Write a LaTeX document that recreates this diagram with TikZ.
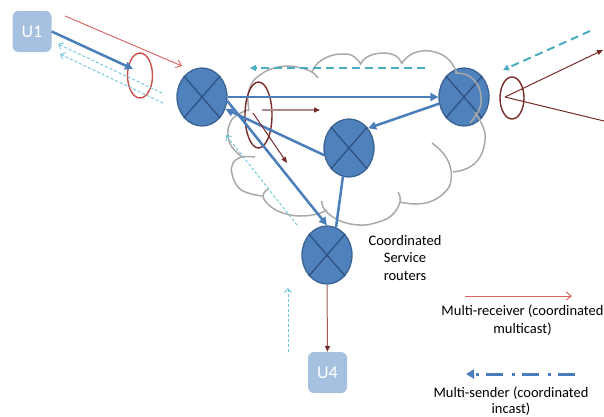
\documentclass[tikz,border=0pt]{standalone}
\usepackage{fontspec}
\setmainfont{Carlito}
\usetikzlibrary{shapes.geometric,arrows.meta,calc}
\definecolor{blueln}{HTML}{4A7EBB}
\definecolor{rfill}{HTML}{4F81BD}
\definecolor{rdraw}{HTML}{3A6393}
\definecolor{rcross}{HTML}{2F5283}
\definecolor{ubox}{HTML}{A6C0E0}
\definecolor{redln}{HTML}{D9605C}
\definecolor{redel}{HTML}{C9504B}
\definecolor{brownd}{HTML}{772C2A}
\definecolor{brownl}{HTML}{B08A8A}
\definecolor{brownm}{HTML}{9C5B5B}
\definecolor{cyanln}{HTML}{4BACC6}
\definecolor{cyanlt}{HTML}{70C4DA}
\definecolor{cloudc}{HTML}{A9A9A9}
\begin{document}
\begin{tikzpicture}[x=1pt,y=-1pt,
  userbox/.style={rectangle, rounded corners=6pt, fill=ubox, minimum width=39pt, minimum height=41pt, text=white, font=\fontsize{18}{20}\selectfont, inner sep=0pt},
  router/.style={ellipse, draw=rdraw, fill=rfill, line width=1.3pt, minimum width=50pt, minimum height=58pt, inner sep=0pt},
  xcross/.style={draw=rcross, line width=1.3pt},
  cloudln/.style={draw=cloudc, line width=1.5pt},
  bluelink/.style={draw=blueln, line width=2.5pt},
  bluearr/.style={bluelink, -{Triangle[length=8pt,width=8pt]}},
  redthin/.style={draw=redln, line width=0.9pt, -{Straight Barb[length=5pt,width=8pt]}},
  ringbox/.style={ellipse, line width=1.4pt, inner sep=0pt},
  brownarr/.style={draw=brownd, line width=1pt, -{Triangle[length=6pt,width=5pt]}},
  cyanthin/.style={draw=cyanlt, line width=0.9pt, dash pattern=on 3pt off 2pt, -{Straight Barb[length=4pt,width=7pt]}},
  cyanthick/.style={draw=cyanln, line width=2pt, dash pattern=on 8pt off 5pt, -{Triangle[length=6pt,width=6pt]}},
  txt/.style={align=center, text=black, font=\fontsize{14.5}{17.5}\selectfont, inner sep=0pt}
]
\useasboundingbox (0,0) rectangle (604,416);

% cloud (parts under everything)
\draw[cloudln] plot[smooth,tension=0.7] coordinates {(249,111) (248,96) (252,83) (260,75) (271,69) (287,66) (301,68) (312,72) (318,78)};
\draw[cloudln] plot[smooth,tension=0.7] coordinates {(312,72) (318,63) (330,56) (343,54) (353,56) (361,64)};
\draw[cloudln] plot[smooth,tension=0.7] coordinates {(360,65) (367,57) (382,53) (396,56) (402,64)};
\draw[cloudln] plot[smooth,tension=0.7] coordinates {(432,143) (443,153) (450,166) (451,180) (446,191) (432,201) (415,204) (400,202)};
\draw[cloudln] plot[smooth,tension=0.7] coordinates {(398,192) (400,202) (391,216) (375,223) (360,225) (343,222) (330,215) (323,207) (322,201)};
\draw[cloudln] plot[smooth,tension=0.7] coordinates {(327,210) (317,214) (300,216) (283,213) (270,206) (263,196) (268,189)};
\draw[cloudln] plot[smooth,tension=0.7] coordinates {(262,196) (248,193) (238,187) (232,174) (233,163) (242,157) (255,157)};
\draw[cloudln] plot[smooth,tension=0.7] coordinates {(242,157) (232,147) (228,135) (230,123) (237,115) (248,110)};

% nodes
\node[userbox] (U1) at (32,31.5) {U1};
\node[userbox] (U4) at (327.5,372.5) {U4};
\node[router] (R1) at (202,97) {};
\node[router] (R2) at (464,97) {};
\node[router] (R3) at (349,148) {};
\node[router] (R4) at (327,255) {};
\foreach \r in {R1,R2,R3,R4}{
  \draw[xcross] (\r.north west) -- (\r.south east);
  \draw[xcross] (\r.north east) -- (\r.south west);
}

% cloud parts over R2
\draw[cloudln] plot[smooth,tension=0.7] coordinates {(402,63) (410,55) (422,51) (435,52) (447,58) (454,67) (457,74)};
\draw[cloudln] plot[smooth,tension=0.7] coordinates {(455,73) (467,75) (477,84) (481,97) (479,110) (470,123)};
\draw[cloudln] plot[smooth,tension=0.7] coordinates {(475,112) (483,127) (485,140) (480,157) (468,168) (453,172)};

% rings
\node[ringbox, draw=redel, minimum width=25pt, minimum height=45pt] (E1) at (140,75.5) {};
\node[ringbox, draw=brownd, minimum width=27pt, minimum height=66pt] (E2) at (258.5,115) {};
\node[ringbox, draw=brownd, minimum width=24pt, minimum height=42pt] (E3) at (512,98) {};

% free ends
\coordinate (u1tip) at (133,69);
\coordinate (redS) at (65,16);
\coordinate (redE) at (182,66);
\coordinate (c1a) at (58,44);
\coordinate (c1b) at (162,93);
\coordinate (c2a) at (60,54);
\coordinate (c2b) at (163,103);
\coordinate (cdS) at (425,68);
\coordinate (cdE) at (250,68);
\coordinate (cuS) at (590,31);
\coordinate (cuE) at (503,70);
\coordinate (cmS) at (297,225);
\coordinate (cmE) at (226,135);
\coordinate (cvS) at (288,352);
\coordinate (cvE) at (288,288);
\coordinate (bhS) at (262,110);
\coordinate (bhE) at (320,110);
\coordinate (bdS) at (253,113);
\coordinate (bdE) at (287,163);
\coordinate (fanO) at (505,97);
\coordinate (fanA) at (603,50);
\coordinate (fanB) at (604,121);
\coordinate (lgrS) at (465,296);
\coordinate (lgrE) at (572,296);
\coordinate (lgbS) at (575,374);
\coordinate (lgbE) at (466,374);

% blue connectors
\draw[bluearr] (U1.east) -- (u1tip);
\draw[bluearr] (R1.east) -- (R2.west);
\draw[bluearr] (R2.195) -- (R3.46);
\draw[bluearr] (R3.196) -- (R1.333);
\draw[bluearr] (R1.351) -- (R4.north);
\draw[bluelink] (R3.258) -- (R4.72);

% red
\draw[redthin] (redS) -- (redE);

% brown
\draw[draw=brownl, line width=1.3pt, -{Triangle[length=6pt,width=5pt,color=brownd]}] (bhS) -- (bhE);
\draw[brownarr] (bdS) -- (bdE);
\draw[brownarr] (fanO) -- (fanA);
\draw[draw=brownd, line width=1pt] (fanO) -- (fanB);
\draw[draw=brownm, line width=1pt, -{Triangle[length=6pt,width=5pt,color=brownd]}] (R4.south) -- (U4.north);

% cyan
\draw[cyanthin] (c1b) -- (c1a);
\draw[cyanthin] (c2b) -- (c2a);
\draw[cyanthin] (cmS) -- (cmE);
\draw[cyanthin] (cvS) -- (cvE);
\draw[cyanthick] (cdS) -- (cdE);
\draw[cyanthick] (cuS) -- (cuE);

% labels
\node[txt] (tcsr) at (405,258) {Coordinated\\Service\\routers};

% legend
\draw[redthin] (lgrS) -- (lgrE);
\node[txt] (tl1) at (522.5,320) {Multi-receiver (coordinated\\multicast)};
\draw[draw=blueln, line width=3pt, dash pattern=on 17pt off 7pt on 3pt off 9pt, -{Triangle[length=8pt,width=9pt]}] (lgbS) -- (lgbE);
\node[txt, anchor=south] (tl2) at (511,415.5) {Multi-sender (coordinated\\[-2pt]incast)};
\end{tikzpicture}
\end{document}
